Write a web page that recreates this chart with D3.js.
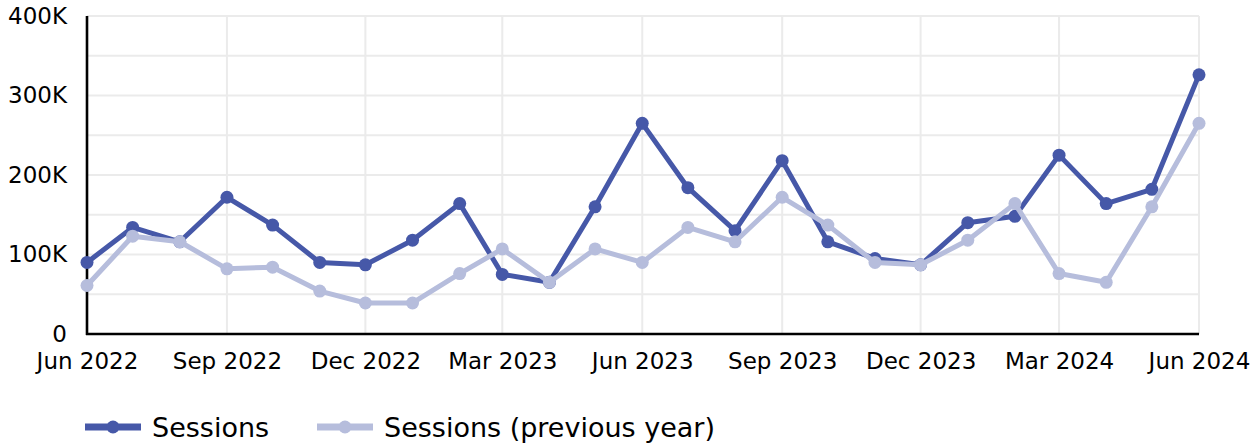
<!DOCTYPE html>
<html>
<head>
<meta charset="utf-8">
<script src="https://cdn.jsdelivr.net/npm/d3@7"></script>
<style>
  html, body { margin: 0; padding: 0; background: #fff; }
  svg text { font-family: "DejaVu Sans", sans-serif; fill: #000; }
</style>
</head>
<body>
<svg id="chart" width="1253" height="445"></svg>
<script>
// ---- Data ----
const months = [
  "2022-06","2022-07","2022-08","2022-09","2022-10","2022-11","2022-12",
  "2023-01","2023-02","2023-03","2023-04","2023-05","2023-06","2023-07",
  "2023-08","2023-09","2023-10","2023-11","2023-12","2024-01","2024-02",
  "2024-03","2024-04","2024-05","2024-06"
];
const sessions = [90,134,116,172,137,90,87,118,164,75,65,160,265,184,130,218,116,95,87,140,148,225,164,182,326].map(v => v * 1000);
const sessionsPrev = [61,123,116,82,84,54,39,39,76,107,65,107,90,134,116,172,137,90,87,118,164,76,65,160,265].map(v => v * 1000);
const xTickMonths = ["2022-06","2022-09","2022-12","2023-03","2023-06","2023-09","2023-12","2024-03","2024-06"];
const yTicks = [0, 100000, 200000, 300000, 400000];
const yTickLabels = ["0", "100K", "200K", "300K", "400K"];
const yGrid = [50000,100000,150000,200000,250000,300000,350000,400000];
const seriesNames = ["Sessions", "Sessions (previous year)"];
const seriesColors = ["#4658A8", "#B6BDDC"];

// ---- Layout ----
const svg = d3.select("#chart");
const margin = { left: 87, right: 54, top: 16, bottom: 111 };
const W = 1253, H = 445;
const parse = d3.utcParse("%Y-%m");
const dates = months.map(parse);
const xTickDates = xTickMonths.map(parse);

const x = d3.scaleUtc()
  .domain([dates[0], dates[dates.length - 1]])
  .range([margin.left, W - margin.right]);
const y = d3.scaleLinear()
  .domain([0, 400000])
  .range([H - margin.bottom, margin.top]);

// grid
const grid = svg.append("g");
grid.selectAll("line.h").data(yGrid).join("line")
  .attr("x1", x.range()[0]).attr("x2", x.range()[1])
  .attr("y1", d => y(d)).attr("y2", d => y(d))
  .attr("stroke", "#EBEBEB").attr("stroke-width", 2);
grid.selectAll("line.v").data(xTickDates.slice(1)).join("line")
  .attr("x1", d => x(d)).attr("x2", d => x(d))
  .attr("y1", y(0)).attr("y2", y(400000))
  .attr("stroke", "#EBEBEB").attr("stroke-width", 2);

// axes
const xAxis = d3.axisBottom(x).tickValues(xTickDates).tickFormat(d3.utcFormat("%b %Y")).tickSize(0).tickPadding(19);
const gx = svg.append("g").attr("transform", `translate(0,${y(0)})`).call(xAxis);
gx.select(".domain").remove();
gx.selectAll("text").attr("font-size", 23).style("font-family", "DejaVu Sans").attr("fill", "#000");

const yAxis = d3.axisLeft(y).tickValues(yTicks).tickFormat((d, i) => yTickLabels[i]).tickSize(0).tickPadding(20);
const gy = svg.append("g").attr("transform", `translate(${margin.left},0)`).call(yAxis);
gy.select(".domain").remove();
gy.selectAll("text").attr("font-size", 23).style("font-family", "DejaVu Sans").attr("fill", "#000");

svg.append("line")
  .attr("x1", margin.left).attr("x2", margin.left)
  .attr("y1", y(400000)).attr("y2", y(0) + 1)
  .attr("stroke", "#000").attr("stroke-width", 2.6);
svg.append("line")
  .attr("x1", margin.left - 1).attr("x2", x.range()[1])
  .attr("y1", y(0)).attr("y2", y(0))
  .attr("stroke", "#000").attr("stroke-width", 2.6);

// series (previous year drawn on top, as in the reference)
const seriesData = [sessions, sessionsPrev];
const line = d3.line().x((d, i) => x(dates[i])).y(d => y(d));
[0, 1].forEach(si => {
  const g = svg.append("g");
  g.append("path").datum(seriesData[si])
    .attr("d", line)
    .attr("fill", "none")
    .attr("stroke", seriesColors[si])
    .attr("stroke-width", 5)
    .attr("stroke-linejoin", "round");
  g.selectAll("circle").data(seriesData[si]).join("circle")
    .attr("cx", (d, i) => x(dates[i]))
    .attr("cy", d => y(d))
    .attr("r", 6.5)
    .attr("fill", seriesColors[si]);
});

// legend
const legendX = [85, 317];
const legend = svg.append("g");
seriesNames.forEach((name, i) => {
  const lg = legend.append("g").attr("transform", `translate(${legendX[i]},427)`);
  lg.append("line").attr("x1", 0).attr("x2", 56).attr("y1", 0).attr("y2", 0)
    .attr("stroke", seriesColors[i]).attr("stroke-width", 7);
  lg.append("circle").attr("cx", 28).attr("cy", 0).attr("r", 6.5).attr("fill", seriesColors[i]);
  lg.append("text").attr("x", 67).attr("y", 10).attr("font-size", 27).text(name);
});
</script>
</body>
</html>
